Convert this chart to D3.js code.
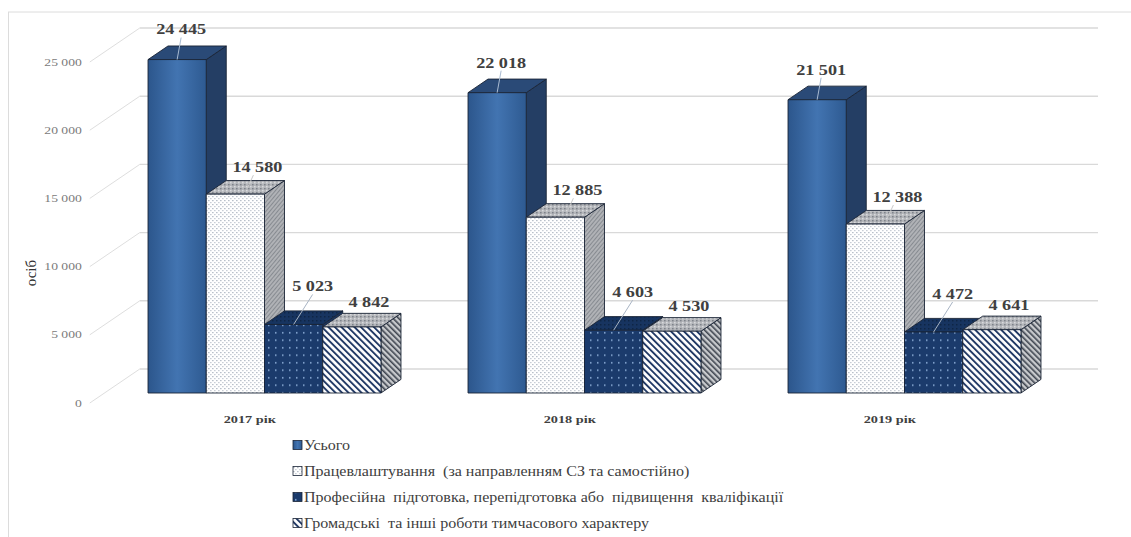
<!DOCTYPE html>
<html>
<head>
<meta charset="utf-8">
<script src="https://cdn.jsdelivr.net/npm/d3@7"></script>
<style>
  body { margin: 0; background: #fff; }
  svg { display: block; }
</style>
</head>
<body>
<svg id="chart" width="1131" height="537"></svg>
<script>
// ---- data ----
const years = ["2017 рік", "2018 рік", "2019 рік"];
const seriesNames = [
  "Усього",
  "Працевлаштування  (за направленням СЗ та самостійно)",
  "Професійна  підготовка, перепідготовка або  підвищення  кваліфікації",
  "Громадські  та інші роботи тимчасового характеру"
];
const totalVals = [24445, 22018, 21501];
const employedVals = [14580, 12885, 12388];
const trainingVals = [5023, 4603, 4472];
const publicWorksVals = [4842, 4530, 4641];
const yTicks = [0, 5000, 10000, 15000, 20000, 25000];
const yTitle = "осіб";

const seriesVals = [totalVals, employedVals, trainingVals, publicWorksVals];

// ---- layout ----
const svg = d3.select("#chart");
const FONT = '"Liberation Serif"';
const FLOOR = 393;        // baseline of the bar fronts
const SLOPE = 1.47;       // horizontal shift per px of depth rise
const BAR_DEPTH = 13.6;   // depth of each bar
const WALL = 24;          // back wall depth behind the bar fronts
const FRONT = -10;        // axis label plane in front of the bars
const TEXT_SX = 1.3;      // horizontal text stretch

const fmt = d3.formatLocale({ thousands: " ", grouping: [3], decimal: ",", currency: ["", ""] }).format(",d");

const h = d3.scaleLinear().domain([0, 25000]).range([0, 341]);
const x = d3.scaleBand().domain(years).range([104.5, 1064.5]).paddingInner(0.272).paddingOuter(0.136);
const xs = d3.scaleBand().domain(d3.range(seriesVals.length)).range([0, x.bandwidth()]);

const shift = k => [k * SLOPE, -k];
const txt = (sel) => sel.append("text").style("font-family", FONT);

// ---- patterns & gradients ----
const defs = svg.append("defs");

const g0 = defs.append("linearGradient").attr("id", "blueFront").attr("x1", 0).attr("x2", 1).attr("y1", 0).attr("y2", 0);
[[0, "#2c568c"], [0.5, "#4274b1"], [1, "#2e5a91"]].forEach(([o, c]) => g0.append("stop").attr("offset", o).attr("stop-color", c));

function pattern(id, w, hgt, bg, draw, transform) {
  const p = defs.append("pattern").attr("id", id).attr("patternUnits", "userSpaceOnUse")
    .attr("width", w).attr("height", hgt);
  if (transform) p.attr("patternTransform", transform);
  p.append("rect").attr("width", w).attr("height", hgt).attr("fill", bg);
  draw(p);
  return p;
}
// light dotted front
pattern("dotsLight", 4, 4, "#ffffff", p => {
  p.append("rect").attr("x", 0).attr("y", 0).attr("width", 1.6).attr("height", 1.2).attr("fill", "#b9c0ca");
  p.append("rect").attr("x", 2).attr("y", 2).attr("width", 1.6).attr("height", 1.2).attr("fill", "#c9ced6");
});
// grey dotted top
pattern("dotsGrey", 4, 4, "#b4b6ba", p => {
  p.append("rect").attr("x", 0).attr("y", 0).attr("width", 1.6).attr("height", 1.4).attr("fill", "#7d828a");
  p.append("rect").attr("x", 2).attr("y", 2).attr("width", 1.6).attr("height", 1.4).attr("fill", "#d8dadd");
});
// grey hatched side
pattern("hatchGrey", 3, 3, "#b0b2b6", p => {
  p.append("line").attr("x1", 0).attr("y1", 0).attr("x2", 0).attr("y2", 3).attr("stroke", "#6c7078").attr("stroke-width", 1.2);
}, "rotate(40)");
// navy with light dots
pattern("dotsNavy", 7, 7.5, "#1b3b6c", p => {
  p.append("rect").attr("x", 2).attr("y", 2).attr("width", 1.5).attr("height", 1.5).attr("fill", "#8fb0da");
});
pattern("dotsNavyTop", 4, 4, "#173460", p => {
  p.append("rect").attr("x", 0).attr("y", 0).attr("width", 1.5).attr("height", 1.5).attr("fill", "#0f2545");
});
// diagonal stripes
pattern("stripes", 4.6, 4.6, "#ffffff", p => {
  p.append("rect").attr("x", 0).attr("y", 0).attr("width", 1.9).attr("height", 4.6).attr("fill", "#223a66");
}, "rotate(-45)");
pattern("stripesGrey", 4, 4, "#c8cacd", p => {
  p.append("rect").attr("x", 0).attr("y", 0).attr("width", 1.6).attr("height", 4).attr("fill", "#3f4550");
}, "rotate(-45)");

const faces = [
  { front: "url(#blueFront)", top: "#2a4a77", side: "#243e64" },
  { front: "url(#dotsLight)", top: "url(#dotsGrey)", side: "url(#hatchGrey)" },
  { front: "url(#dotsNavy)", top: "url(#dotsNavyTop)", side: "#1a3560" },
  { front: "url(#stripes)", top: "url(#dotsGrey)", side: "url(#stripesGrey)" }
];
const labelOffset = [
  { dx: 4, dy: -30, leader: "#a9bbd2" },
  { dx: 22, dy: -27, leader: "#c9c9c9" },
  { dx: 19, dy: -38, leader: "#a8b4c4" },
  { dx: 17, dy: -25, leader: null }
];

// ---- frame ----
svg.append("line").attr("x1", 8).attr("y1", 12).attr("x2", 1131).attr("y2", 12).attr("stroke", "#dcdcdc");
svg.append("line").attr("x1", 8.5).attr("y1", 12).attr("x2", 8.5).attr("y2", 537).attr("stroke", "#dcdcdc");

// ---- walls and gridlines ----
const xLeft = x.range()[0];
const wallX = xLeft + shift(WALL)[0];
const frontX = xLeft + shift(FRONT)[0];
const grid = svg.append("g");
yTicks.forEach(t => {
  const yw = FLOOR + shift(WALL)[1] - h(t);
  const yf = FLOOR + shift(FRONT)[1] - h(t);
  grid.append("line").attr("x1", wallX).attr("x2", 1098).attr("y1", yw).attr("y2", yw)
    .attr("stroke", "#d9d9d9").attr("stroke-width", 1.4);
  grid.append("line").attr("x1", frontX).attr("y1", yf).attr("x2", wallX).attr("y2", yw)
    .attr("stroke", "#dedede").attr("stroke-width", 1);
  txt(grid).attr("transform", `translate(${frontX - 8},${yf}) scale(${TEXT_SX},1)`)
    .attr("text-anchor", "end").attr("dy", "0.35em").attr("font-size", 10.5).attr("fill", "#7a7a7a")
    .text(fmt(t));
});

// y-axis title
txt(svg).attr("transform", "translate(31,273) rotate(-90)")
  .attr("text-anchor", "middle").attr("dy", "0.35em").attr("font-size", 15).attr("fill", "#333")
  .text(yTitle);

// ---- bars ----
const barsG = svg.append("g");
const [ddx, ddy] = shift(BAR_DEPTH);
const labels = [];
years.forEach((yr, i) => {
  const grp = barsG.append("g");
  seriesVals.forEach((vals, j) => {
    const v = vals[i];
    const x0 = x(yr) + xs(j), w = xs.bandwidth();
    const top = FLOOR - h(v);
    const f = faces[j];
    const g = grp.append("g").attr("stroke", "#1a2436").attr("stroke-width", 0.9).attr("stroke-linejoin", "round");
    g.append("polygon").attr("fill", f.side)
      .attr("points", [[x0 + w, top], [x0 + w + ddx, top + ddy], [x0 + w + ddx, FLOOR + ddy], [x0 + w, FLOOR]].join(" "));
    g.append("polygon").attr("fill", f.top)
      .attr("points", [[x0, top], [x0 + w, top], [x0 + w + ddx, top + ddy], [x0 + ddx, top + ddy]].join(" "));
    g.append("rect").attr("x", x0).attr("y", top).attr("width", w).attr("height", FLOOR - top).attr("fill", f.front);
    const lo = labelOffset[j];
    labels.push({ v, cx: x0 + w / 2, top, lx: x0 + w / 2 + lo.dx, ly: top + lo.dy, leader: lo.leader, j });
  });
});

// leader lines and value labels
const lab = svg.append("g");
labels.forEach(d => {
  if (d.leader) {
    const endX = d.j === 1 ? d.cx + 12 : d.cx;
    const endY = d.j === 1 ? d.top - 6 : d.top;
    lab.append("line").attr("x1", d.lx - (d.j === 1 ? 4 : 0)).attr("y1", d.ly + 8).attr("x2", endX).attr("y2", endY)
      .attr("stroke", d.leader).attr("stroke-width", 1);
  }
  txt(lab).attr("transform", `translate(${d.lx},${d.ly}) scale(${TEXT_SX},1)`)
    .attr("text-anchor", "middle").attr("dy", "0.35em").attr("font-size", 14).attr("font-weight", "bold")
    .attr("fill", "#404040").text(fmt(d.v));
});

// category labels on the front plane
years.forEach(yr => {
  const cx = x(yr) + x.bandwidth() / 2 + shift(FRONT)[0];
  txt(svg).attr("transform", `translate(${cx},${FLOOR + 26}) scale(${TEXT_SX},1)`)
    .attr("text-anchor", "middle").attr("dy", "0.35em").attr("font-size", 11).attr("font-weight", "bold")
    .attr("fill", "#404040").text(yr);
});

// ---- legend ----
const legend = svg.append("g").attr("transform", "translate(293,445)");
seriesNames.forEach((name, j) => {
  const row = legend.append("g").attr("transform", `translate(0,${j * 26})`);
  row.append("rect").attr("x", 0).attr("y", -4.5).attr("width", 9).attr("height", 9)
    .attr("fill", faces[j].front).attr("stroke", "#1a2436").attr("stroke-width", 0.8);
  txt(row).attr("transform", `translate(11,0) scale(1.07,1)`).attr("dy", "0.35em")
    .attr("font-size", 15).attr("fill", "#404040").style("white-space", "pre").text(name);
});
</script>
</body>
</html>
